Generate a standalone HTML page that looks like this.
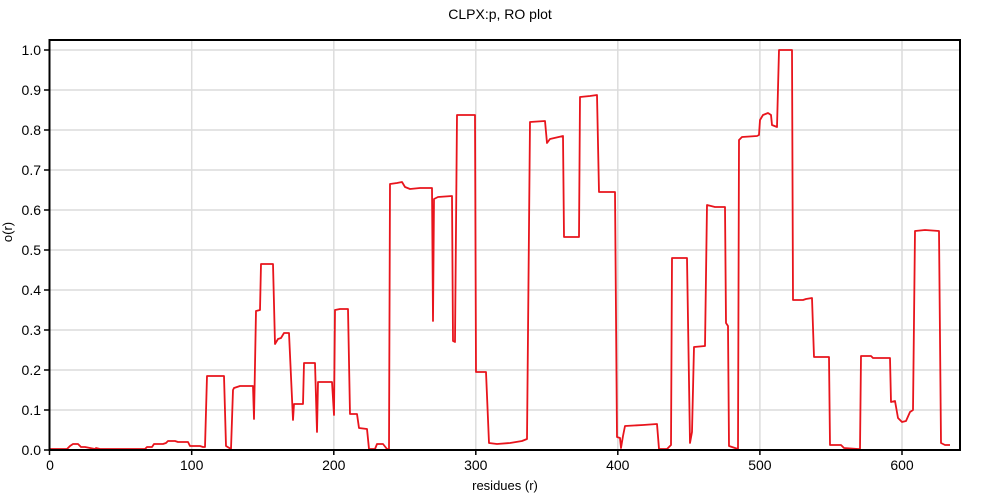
<!DOCTYPE html>
<html><head><meta charset="utf-8"><style>
html,body{margin:0;padding:0;background:#fff;}
svg{display:block;}
text{font-family:"Liberation Sans",sans-serif;fill:#000;}
</style></head><body>
<svg width="1000" height="500" viewBox="0 0 1000 500" xmlns="http://www.w3.org/2000/svg">
<rect width="1000" height="500" fill="#fff"/>
<text x="500" y="19" font-size="14" text-anchor="middle">CLPX:p, RO plot</text>
<g stroke="#dcdcdc" stroke-width="1.5">
<line x1="191.7" y1="40" x2="191.7" y2="450"/>
<line x1="333.8" y1="40" x2="333.8" y2="450"/>
<line x1="475.8" y1="40" x2="475.8" y2="450"/>
<line x1="617.8" y1="40" x2="617.8" y2="450"/>
<line x1="759.9" y1="40" x2="759.9" y2="450"/>
<line x1="902" y1="40" x2="902" y2="450"/>
<line x1="49" y1="50" x2="960" y2="50"/>
<line x1="49" y1="90" x2="960" y2="90"/>
<line x1="49" y1="130" x2="960" y2="130"/>
<line x1="49" y1="170" x2="960" y2="170"/>
<line x1="49" y1="210" x2="960" y2="210"/>
<line x1="49" y1="250" x2="960" y2="250"/>
<line x1="49" y1="290" x2="960" y2="290"/>
<line x1="49" y1="330" x2="960" y2="330"/>
<line x1="49" y1="370" x2="960" y2="370"/>
<line x1="49" y1="410" x2="960" y2="410"/>
</g>
<polyline fill="none" stroke="#e8141c" stroke-width="1.8" stroke-linejoin="round" points="
50,449 67,449 70,446 73,444 78,444 81,447 85,447 90,448 95,449 96,448 100,449 120,449 145,449 147,447 152,447 154,444 163,444 166,443 168,441 175,441 178,442 188,442 190,446 200,446 203,447 205,447 207,376 224,376 226,446 231,449 233,390 234,388 240,386 253,386 254,419 256,311 260,310 261,264 273,264 275,344 278,339 281,338 284,333 289,333 293,420 294,404 303,404 304,363 315,363 317,432 318,382 332,382 334,415 335,310 340,309 348,309 350,414 357,414 359,428 367,429 369,449 375,449 377,444 383,444 387,449 389,449 390,184 397,183 402,182 405,187 410,189 420,188 432,188 433,321 434,199 438,197 452,196 453,341 455,342 457,115 475,115 476,372 486,372 489,443 497,444 510,443 522,441 527,439 530,122 545,121 547,143 550,139 563,136 564,237 579,237 580,97 590,96 597,95 599,192 615,192 617,437 620,438 621,448 623,436 625,426 643,425 657,424 659,449 667,449 671,445 672,258 687,258 690,443 692,432 694,347 705,346 707,205 715,207 725,207 726,323 728,326 729,446 738,449 739,140 742,137 757,136 759,135 760,120 763,115 768,113 771,115 772,125 777,127 779,50 792,50 793,300 803,300 806,299 812,298 814,357 829,357 830,445 841,445 844,448 858,449 860,449 861,356 871,356 873,358 890,358 891,402 895,401 898,418 902,422 906,421 910,412 913,410 915,231 925,230 939,231 941,443 945,445 950,445"/>
<rect x="49.5" y="40" width="910.5" height="410" fill="none" stroke="#000" stroke-width="2"/>
<g stroke="#000" stroke-width="1.5">
<line x1="44" y1="50" x2="49" y2="50"/>
<line x1="44" y1="90" x2="49" y2="90"/>
<line x1="44" y1="130" x2="49" y2="130"/>
<line x1="44" y1="170" x2="49" y2="170"/>
<line x1="44" y1="210" x2="49" y2="210"/>
<line x1="44" y1="250" x2="49" y2="250"/>
<line x1="44" y1="290" x2="49" y2="290"/>
<line x1="44" y1="330" x2="49" y2="330"/>
<line x1="44" y1="370" x2="49" y2="370"/>
<line x1="44" y1="410" x2="49" y2="410"/>
<line x1="44" y1="450" x2="49" y2="450"/>
<line x1="49.5" y1="450" x2="49.5" y2="455"/>
<line x1="191.7" y1="450" x2="191.7" y2="455"/>
<line x1="333.8" y1="450" x2="333.8" y2="455"/>
<line x1="475.8" y1="450" x2="475.8" y2="455"/>
<line x1="617.8" y1="450" x2="617.8" y2="455"/>
<line x1="759.9" y1="450" x2="759.9" y2="455"/>
<line x1="902" y1="450" x2="902" y2="455"/>
</g>
<g font-size="14" text-anchor="end">
<text x="41" y="55">1.0</text>
<text x="41" y="95">0.9</text>
<text x="41" y="135">0.8</text>
<text x="41" y="175">0.7</text>
<text x="41" y="215">0.6</text>
<text x="41" y="255">0.5</text>
<text x="41" y="295">0.4</text>
<text x="41" y="335">0.3</text>
<text x="41" y="375">0.2</text>
<text x="41" y="415">0.1</text>
<text x="41" y="455">0.0</text>
</g>
<g font-size="14" text-anchor="middle">
<text x="50" y="470">0</text>
<text x="191.7" y="470">100</text>
<text x="333.8" y="470">200</text>
<text x="475.8" y="470">300</text>
<text x="617.8" y="470">400</text>
<text x="759.9" y="470">500</text>
<text x="902" y="470">600</text>
</g>
<text x="505" y="490" font-size="13" text-anchor="middle">residues (r)</text>
<text x="0" y="0" font-size="13" text-anchor="middle" transform="translate(12,232) rotate(-90)">o(r)</text>
</svg>
</body></html>
